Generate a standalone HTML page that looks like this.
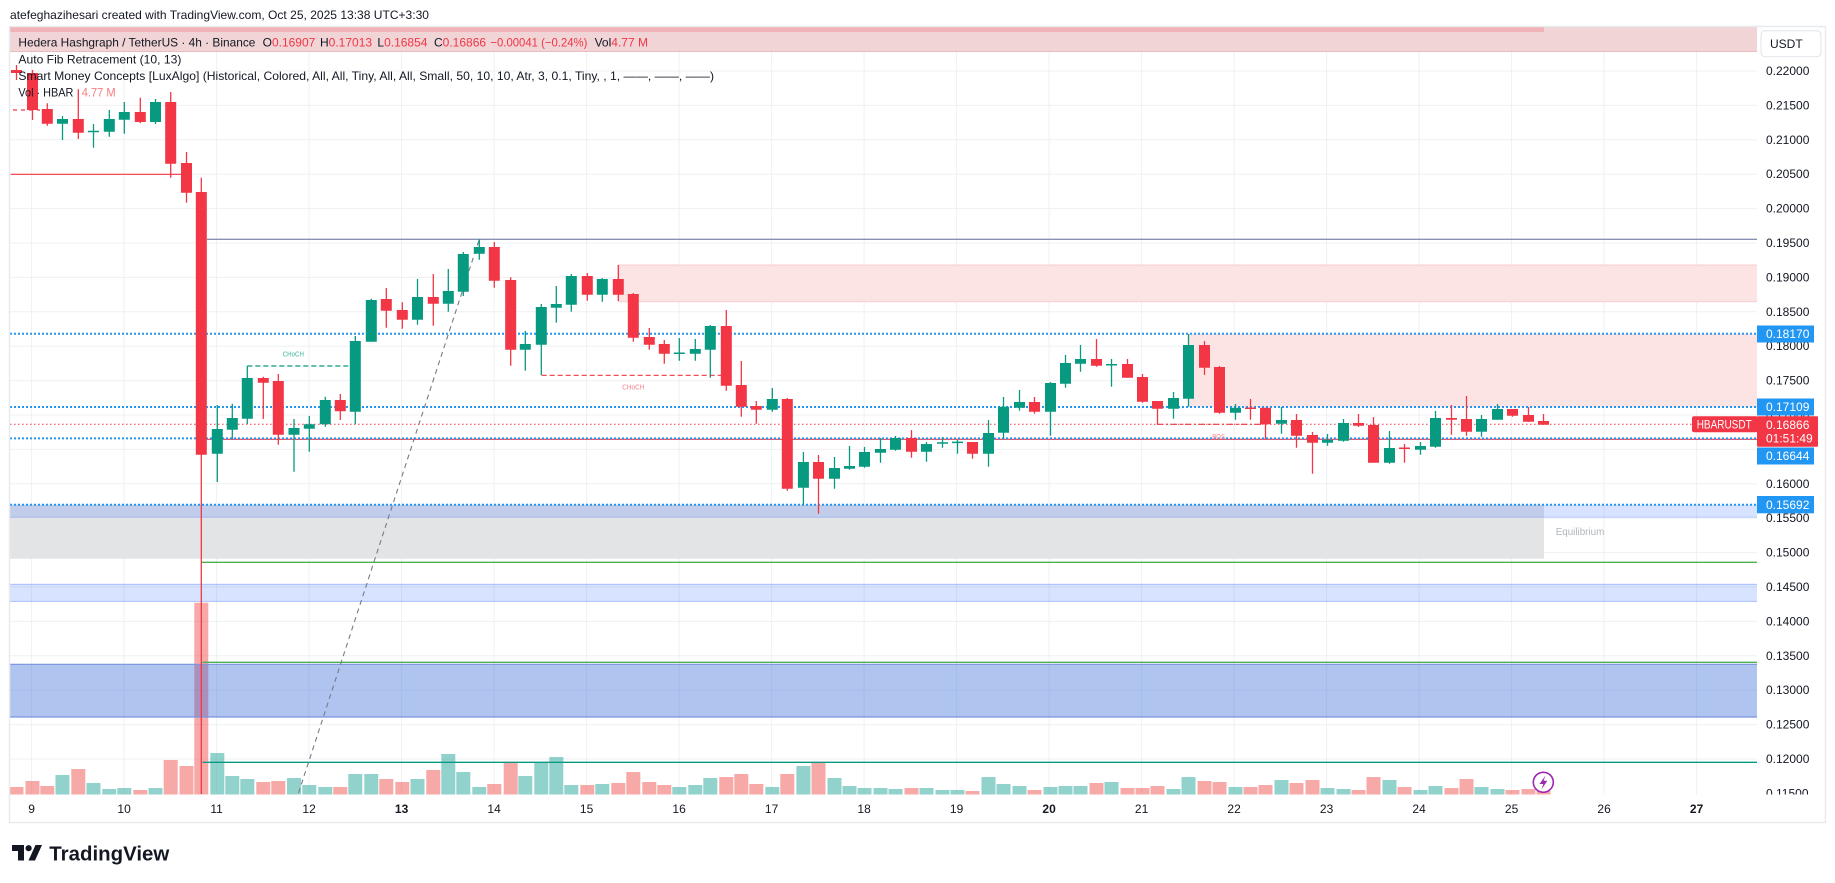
<!DOCTYPE html>
<html><head><meta charset="utf-8"><style>
html,body{margin:0;padding:0;background:#fff;}
svg{display:block;font-family:"Liberation Sans",Arial,sans-serif;}
</style></head><body>
<svg width="1835" height="883" viewBox="0 0 1835 883" xmlns="http://www.w3.org/2000/svg">
<defs><clipPath id="pane"><rect x="10" y="27" width="1747" height="767.5"/></clipPath>
<clipPath id="axis"><rect x="1757" y="27" width="68" height="767.5"/></clipPath></defs>
<rect width="1835" height="883" fill="#fff"/>
<text x="10" y="19" font-size="12" fill="#131722" textLength="419" lengthAdjust="spacingAndGlyphs">atefeghazihesari created with TradingView.com, Oct 25, 2025 13:38 UTC+3:30</text>

<g clip-path="url(#pane)">
<!-- grid -->
<g stroke="#eef0f3" stroke-width="1">
<path d="M10 71H1757M10 105.4H1757M10 139.8H1757M10 174.2H1757M10 208.6H1757M10 243H1757M10 277.4H1757M10 311.8H1757M10 346.2H1757M10 380.6H1757M10 415H1757M10 449.4H1757M10 483.8H1757M10 518.2H1757M10 552.6H1757M10 587H1757M10 621.4H1757M10 655.8H1757M10 690.2H1757M10 724.6H1757M10 759H1757"/>
<path d="M31.6 27V795M124.1 27V795M216.6 27V795M309.1 27V795M401.6 27V795M494.1 27V795M586.6 27V795M679.1 27V795M771.6 27V795M864.1 27V795M956.6 27V795M1049.1 27V795M1141.6 27V795M1234.1 27V795M1326.6 27V795M1419.1 27V795M1511.6 27V795M1604.1 27V795M1696.6 27V795"/>
</g>

<!-- volume -->
<path fill="none" stroke="rgba(239,83,80,0.5)" stroke-width="14" d="M16.5 787V794.5 M32.5 781V794.5 M47.3 786V794.5 M78.3 769V794.5 M140.3 790V794.5 M170.7 760V794.5 M186.5 766V794.5 M201.3 602.7V794.5 M263.3 782V794.5 M278.3 781V794.5 M340.3 787V794.5 M386.3 779V794.5 M402.3 782V794.5 M433.3 770V794.5 M494.3 784V794.5 M510.7 763V794.5 M587.3 785V794.5 M618.3 783V794.5 M633.3 772V794.5 M649.3 782V794.5 M664.3 785V794.5 M726.3 777V794.5 M741.3 774V794.5 M756.3 784V794.5 M787.3 774V794.5 M818.5 763V794.5 M911.5 788V794.5 M972.5 791V794.5 M1034.5 790V794.5 M1096.5 783V794.5 M1127.5 788V794.5 M1142.5 788V794.5 M1157.5 786V794.5 M1204.5 781V794.5 M1219.5 782V794.5 M1250.5 787V794.5 M1265.5 785V794.5 M1296.5 783V794.5 M1312.5 780V794.5 M1358.5 790V794.5 M1373.5 777V794.5 M1404.5 787V794.5 M1451.5 788V794.5 M1466.5 779V794.5 M1512.5 790V794.5 M1528.5 789V794.5 M1543.5 791V794.5"/>
<path fill="none" stroke="rgba(38,166,154,0.5)" stroke-width="14" d="M62.5 775V794.5 M93.5 783V794.5 M109.3 789V794.5 M124.3 788V794.5 M155.5 788V794.5 M217.3 753V794.5 M232.3 776V794.5 M247.3 779V794.5 M294 778V794.5 M309.3 785V794.5 M325.3 787V794.5 M355.3 774V794.5 M371.3 774V794.5 M417.5 779V794.5 M448.3 754V794.5 M463.3 772V794.5 M479.3 787V794.5 M525.3 776V794.5 M541.3 763V794.5 M556.3 757V794.5 M571.3 785V794.5 M602.3 784V794.5 M679.3 787V794.5 M695.3 785V794.5 M710.3 778V794.5 M772.3 787V794.5 M803.4 766V794.5 M834.5 778V794.5 M849.5 786V794.5 M864.5 788V794.5 M880.5 788V794.5 M895.5 789V794.5 M926.5 788V794.5 M942.5 790V794.5 M957.5 790V794.5 M988.5 777V794.5 M1003.5 784V794.5 M1019.5 786V794.5 M1050.5 787V794.5 M1065.5 786V794.5 M1080.5 786V794.5 M1111.5 782V794.5 M1173.5 789V794.5 M1188.5 777V794.5 M1235.5 787V794.5 M1281.5 780V794.5 M1327.5 788V794.5 M1343.5 789V794.5 M1389.5 780V794.5 M1420.5 790V794.5 M1435.5 786V794.5 M1481.5 787V794.5 M1497.5 789V794.5"/>

<!-- zones -->
<rect x="10" y="27" width="1747" height="25" fill="#f0d4d6"/>
<rect x="10" y="27" width="1534" height="5" fill="#f0b3b7"/>
<line x1="10" y1="51.5" x2="1757" y2="51.5" stroke="#e9bcc0" stroke-width="1"/>
<rect x="618.3" y="265" width="1140" height="36.7" fill="#fce4e4" stroke="#f8cdd0" stroke-width="1"/>
<rect x="1189" y="333.7" width="570" height="73.3" fill="#fce4e4"/>
<rect x="10" y="504.7" width="1534" height="54" fill="#e3e4e6"/>
<rect x="10" y="504.7" width="1747" height="12.6" fill="rgba(41,98,255,0.18)"/>
<line x1="10" y1="517.3" x2="1757" y2="517.3" stroke="rgba(41,98,255,0.25)"/>
<rect x="10" y="584" width="1747" height="17.7" fill="rgba(41,98,255,0.18)"/>
<line x1="10" y1="584.3" x2="1757" y2="584.3" stroke="rgba(41,98,255,0.3)"/>
<line x1="10" y1="601.4" x2="1757" y2="601.4" stroke="rgba(41,98,255,0.3)"/>
<rect x="10" y="664" width="1747" height="53.3" fill="rgba(58,108,218,0.4)"/>
<line x1="10" y1="664.3" x2="1757" y2="664.3" stroke="#7a93e0" stroke-width="1.2"/>
<line x1="10" y1="717" x2="1757" y2="717" stroke="#7a93e0" stroke-width="1.2"/>
<text x="1555.7" y="535" font-size="10" fill="#b2b5be" textLength="48.6" lengthAdjust="spacingAndGlyphs">Equilibrium</text>

<!-- lines -->
<line x1="10.7" y1="174.3" x2="181.7" y2="174.3" stroke="#f23645" stroke-width="1.2"/>
<line x1="13" y1="110" x2="40" y2="110" stroke="#f23645" stroke-width="1.2" stroke-dasharray="4 4"/>
<line x1="207" y1="239.3" x2="1757" y2="239.3" stroke="#8a90b5" stroke-width="1.4"/>
<line x1="206.7" y1="439.3" x2="1757" y2="439.3" stroke="#f23645" stroke-width="1.2"/>
<line x1="202" y1="562.3" x2="1757" y2="562.3" stroke="#4caf50" stroke-width="1.3"/>
<line x1="202.5" y1="662.3" x2="1757" y2="662.3" stroke="#4caf50" stroke-width="1.3"/>
<line x1="202.5" y1="762.3" x2="1757" y2="762.3" stroke="#089981" stroke-width="1.3"/>
<line x1="298.5" y1="793" x2="479.3" y2="239.3" stroke="#787b86" stroke-width="1.1" stroke-dasharray="5 4"/>
<g stroke="#2196f3" stroke-width="2" stroke-dasharray="2 2">
<line x1="10" y1="333.7" x2="1757" y2="333.7"/>
<line x1="10" y1="407" x2="1757" y2="407"/>
<line x1="10" y1="438.4" x2="1757" y2="438.4"/>
<line x1="10" y1="504.7" x2="1757" y2="504.7"/>
</g>
<line x1="10" y1="424.3" x2="1692" y2="424.3" stroke="#f23645" stroke-width="1" stroke-dasharray="1.5 2.5"/>
<line x1="1157" y1="424.3" x2="1263" y2="424.3" stroke="#f23645" stroke-width="1.2" stroke-dasharray="6 3 2 3"/>
<line x1="247.3" y1="366" x2="350" y2="366" stroke="#089981" stroke-width="1.2" stroke-dasharray="5 3"/>
<line x1="541.7" y1="375.3" x2="721.7" y2="375.3" stroke="#f23645" stroke-width="1.2" stroke-dasharray="5 3"/>
<text x="282.7" y="356.5" font-size="7" fill="#3fb89e" textLength="21.3" lengthAdjust="spacingAndGlyphs">CHoCH</text>
<text x="622.3" y="389.5" font-size="7" fill="#f7828b" textLength="22" lengthAdjust="spacingAndGlyphs">CHoCH</text>
<text x="1212.3" y="439" font-size="7" fill="#f7828b" textLength="12.7" lengthAdjust="spacingAndGlyphs">BOS</text>

<!-- candles -->
<path fill="none" stroke="#f23645" stroke-width="1.3" d="M16.5 65V80 M32.5 70V120 M47.3 103.3V125.7 M78.3 89.3V139 M140.3 97.7V123.3 M170.7 92V177.7 M186.5 152V202.7 M201.3 177.7V794 M263.3 376.7V419 M278.3 374V444.7 M340.3 394V420 M386.3 288V327.7 M402.3 302.3V328.7 M433.3 274V325.7 M494.3 242V287.7 M510.7 277.3V365.7 M587.3 273V300.7 M618.3 265V301 M633.3 293V341.7 M649.3 328V349.7 M664.3 340V363.7 M726.3 310V390.7 M741.3 361V416.7 M756.3 401V423.7 M787.3 398V490.7 M818.5 455V513.7 M911.5 430V457.7 M972.5 442V458.7 M1034.5 397V413.7 M1096.5 339V366.7 M1127.5 359V377.7 M1142.5 374V402.7 M1157.5 401V424 M1204.5 341V375 M1219.5 366V413.7 M1250.5 399V419.7 M1265.5 407.7V439.3 M1296.5 414V447.7 M1312.5 432V473.7 M1358.5 414V427 M1373.5 417V462.7 M1404.5 444V462.7 M1451.5 405V434.7 M1466.5 396V435.7 M1512.5 409V416.7 M1528.5 407V422 M1543.5 414V424.7"/>
<path fill="none" stroke="#f23645" stroke-width="11" d="M16.5 70V73 M32.5 73V110 M47.3 109V123.7 M78.3 119V132.7 M140.3 112V122 M170.7 102V163.7 M186.5 163V192.7 M201.3 192V454.7 M263.3 378V382.7 M278.3 381V434.7 M340.3 400V411.3 M386.3 299V310.7 M402.3 310V319.7 M433.3 297V303.7 M494.3 247V280.7 M510.7 280V349.7 M587.3 276V294.7 M618.3 279V294.7 M633.3 294V337.7 M649.3 337V344.7 M664.3 344V353.7 M726.3 326V385.7 M741.3 385V406.7 M756.3 406V409.7 M787.3 399V488.7 M818.5 462V478.7 M911.5 438V451.7 M972.5 442V453.7 M1034.5 402V411.7 M1096.5 359V365.7 M1127.5 364V377.7 M1142.5 377V401.7 M1157.5 401V408.7 M1204.5 345V367.7 M1219.5 367V412.7 M1250.5 407.5V409 M1265.5 407.7V424.3 M1296.5 420V435.7 M1312.5 435V442.7 M1358.5 423V425.7 M1373.5 425V462.7 M1404.5 447.5V449 M1451.5 418V419.7 M1466.5 419V431.7 M1512.5 409V415.7 M1528.5 415V421.7 M1543.5 421V424.7"/>
<path fill="none" stroke="#089981" stroke-width="1.3" d="M62.5 116V140 M93.5 124V147.7 M109.3 110V136.7 M124.3 102V133.7 M155.5 99V124 M217.3 405V482 M232.3 403.7V439 M247.3 366V424 M294 419V471.7 M309.3 416V451.7 M325.3 396.7V426.7 M355.3 336V424.3 M371.3 298.7V341.7 M417.5 279V324.7 M448.3 269V311.7 M463.3 252V296 M479.3 239.3V259.7 M525.3 331V370.7 M541.3 304V375.3 M556.3 286V322.7 M571.3 274V311.7 M602.3 278V301.7 M679.3 338V360.7 M695.3 339V360.7 M710.3 325V377.7 M772.3 388V411.7 M803.4 452V504.7 M834.5 457V488.7 M849.5 446V469.7 M864.5 447V467.7 M880.5 438V462.7 M895.5 436V450.7 M926.5 442V461.7 M942.5 437V447.7 M957.5 440V453.7 M988.5 420V466.7 M1003.5 397V438.7 M1019.5 390V410.7 M1050.5 382V435.7 M1065.5 355V387.7 M1080.5 345V371.7 M1111.5 359V386.7 M1173.5 392V418.7 M1188.5 334V406.7 M1235.5 404V419.7 M1281.5 407V433.7 M1327.5 434V445.7 M1343.5 419V441.7 M1389.5 431V463.7 M1420.5 442V454.7 M1435.5 411V447.7 M1481.5 415V436.7 M1497.5 404V419.7"/>
<path fill="none" stroke="#089981" stroke-width="11" d="M62.5 119V123.7 M93.5 130.7V132.2 M109.3 119V131.7 M124.3 112V119.7 M155.5 102V122 M217.3 429V453.7 M232.3 418V429.7 M247.3 378V418.7 M294 428V434.7 M309.3 424.3V428.7 M325.3 400V424.3 M355.3 341V411.7 M371.3 300V341.7 M417.5 297V319.7 M448.3 291V303.7 M463.3 254V291.7 M479.3 247V253.7 M525.3 344V349.7 M541.3 307V344.7 M556.3 304V307.7 M571.3 276V304.7 M602.3 279V294.7 M679.3 352.5V354 M695.3 349V353.7 M710.3 326V349.7 M772.3 399V409.7 M803.4 462V487.7 M834.5 468V478.7 M849.5 466V468.7 M864.5 452V466.7 M880.5 449V452.7 M895.5 438V449.7 M926.5 444V451.7 M942.5 442.3V443.8 M957.5 441.6V443.1 M988.5 433V453.7 M1003.5 406.7V432.7 M1019.5 402V407.7 M1050.5 383V411.7 M1065.5 363V383.7 M1080.5 359V363.7 M1111.5 364V365.5 M1173.5 398V408.7 M1188.5 345V398.7 M1235.5 407.7V412.7 M1281.5 420V423.7 M1327.5 439.7V442.7 M1343.5 423V440.7 M1389.5 448V462.7 M1420.5 446V449.7 M1435.5 418V446.7 M1481.5 419V431.7 M1497.5 409V419.7"/>

<!-- lightning -->
<circle cx="1543.3" cy="782.3" r="10" fill="#fff" stroke="#9c27b0" stroke-width="1.6"/>
<path d="M1545.5 775.5 L1539.5 784 L1543.3 784 L1541.5 789.5 L1547.3 780.8 L1543.6 780.8 Z" fill="#9c27b0"/>
</g>

<!-- legend -->
<g font-size="12" fill="#131722">
<text x="18.4" y="46.3" textLength="237" lengthAdjust="spacingAndGlyphs">Hedera Hashgraph / TetherUS · 4h · Binance</text>
<text x="262.6" y="46.3">O<tspan fill="#f23645">0.16907</tspan></text>
<text x="320" y="46.3">H<tspan fill="#f23645">0.17013</tspan></text>
<text x="377.4" y="46.3">L<tspan fill="#f23645">0.16854</tspan></text>
<text x="434" y="46.3">C<tspan fill="#f23645">0.16866</tspan></text>
<text x="490.4" y="46.3" fill="#f23645" textLength="97" lengthAdjust="spacingAndGlyphs">−0.00041 (−0.24%)</text>
<text x="594.6" y="46.3">Vol<tspan fill="#f23645">4.77 M</tspan></text>
<text x="18.4" y="63.3" textLength="163" lengthAdjust="spacingAndGlyphs">Auto Fib Retracement (10, 13)</text>
<text x="18.4" y="80" textLength="695.6" lengthAdjust="spacingAndGlyphs">Smart Money Concepts [LuxAlgo] (Historical, Colored, All, All, Tiny, All, All, Small, 50, 10, 10, Atr, 3, 0.1, Tiny, , 1, ——, ——, ——)</text>
<text x="18.4" y="96.7" textLength="55" lengthAdjust="spacingAndGlyphs">Vol · HBAR</text>
<text x="81.7" y="96.7" fill="#f77c80" textLength="34" lengthAdjust="spacingAndGlyphs">4.77 M</text>
</g>

<!-- price axis -->
<g font-size="12" fill="#131722" clip-path="url(#axis)">
<text x="1766" y="75">0.22000</text>
<text x="1766" y="109.4">0.21500</text>
<text x="1766" y="143.8">0.21000</text>
<text x="1766" y="178.2">0.20500</text>
<text x="1766" y="212.6">0.20000</text>
<text x="1766" y="247">0.19500</text>
<text x="1766" y="281.4">0.19000</text>
<text x="1766" y="315.8">0.18500</text>
<text x="1766" y="350.2">0.18000</text>
<text x="1766" y="384.6">0.17500</text>
<text x="1766" y="419">0.17000</text>
<text x="1766" y="487.8">0.16000</text>
<text x="1766" y="522.2">0.15500</text>
<text x="1766" y="556.6">0.15000</text>
<text x="1766" y="591">0.14500</text>
<text x="1766" y="625.4">0.14000</text>
<text x="1766" y="659.8">0.13500</text>
<text x="1766" y="694.2">0.13000</text>
<text x="1766" y="728.6">0.12500</text>
<text x="1766" y="763">0.12000</text>
<text x="1766" y="797.4">0.11500</text>
</g>
<g font-size="12" fill="#fff">
<rect x="1757" y="325.5" width="57" height="17" fill="#2196f3"/>
<text x="1766" y="338.2">0.18170</text>
<rect x="1757" y="398.5" width="57" height="17" fill="#2196f3"/>
<text x="1766" y="411.2">0.17109</text>
<rect x="1757" y="447.5" width="57" height="17" fill="#2196f3"/>
<text x="1766" y="460.2">0.16644</text>
<rect x="1757" y="496" width="57" height="17.3" fill="#2196f3"/>
<text x="1766" y="508.9">0.15692</text>
<rect x="1692" y="416.3" width="66" height="16" rx="2" fill="#f23645"/>
<text x="1696.7" y="428.5" textLength="55" lengthAdjust="spacingAndGlyphs">HBARUSDT</text>
<rect x="1757" y="416.3" width="61" height="30.4" rx="1" fill="#f23645"/>
<text x="1766" y="429.2">0.16866</text>
<text x="1766" y="442.5">01:51:49</text>
</g>
<rect x="1761" y="30.7" width="60" height="26" rx="4" fill="#fff" stroke="#e0e3eb"/>
<text x="1770" y="48" font-size="12" fill="#131722">USDT</text>

<!-- time axis -->
<g font-size="12" fill="#131722" text-anchor="middle">
<text x="31.6" y="813">9</text>
<text x="124.1" y="813">10</text>
<text x="216.6" y="813">11</text>
<text x="309.1" y="813">12</text>
<text x="401.6" y="813" font-weight="bold">13</text>
<text x="494.1" y="813">14</text>
<text x="586.6" y="813">15</text>
<text x="679.1" y="813">16</text>
<text x="771.6" y="813">17</text>
<text x="864.1" y="813">18</text>
<text x="956.6" y="813">19</text>
<text x="1049.1" y="813" font-weight="bold">20</text>
<text x="1141.6" y="813">21</text>
<text x="1234.1" y="813">22</text>
<text x="1326.6" y="813">23</text>
<text x="1419.1" y="813">24</text>
<text x="1511.6" y="813">25</text>
<text x="1604.1" y="813">26</text>
<text x="1696.6" y="813" font-weight="bold">27</text>
</g>

<!-- frame -->
<rect x="9.5" y="26.5" width="1816" height="796" fill="none" stroke="#e8eaed" stroke-width="1.5"/>

<!-- logo -->
<path d="M12 845 H24 V860.5 H18 V851 H12 Z" fill="#131722"/>
<circle cx="28.6" cy="848.2" r="3.1" fill="#131722"/>
<path d="M35.5 845 H42 L35 860.5 H28.5 Z" fill="#131722"/>
<text x="49.3" y="860.5" font-size="20" font-weight="bold" fill="#131722" textLength="120" lengthAdjust="spacingAndGlyphs">TradingView</text>
</svg>
</body></html>
